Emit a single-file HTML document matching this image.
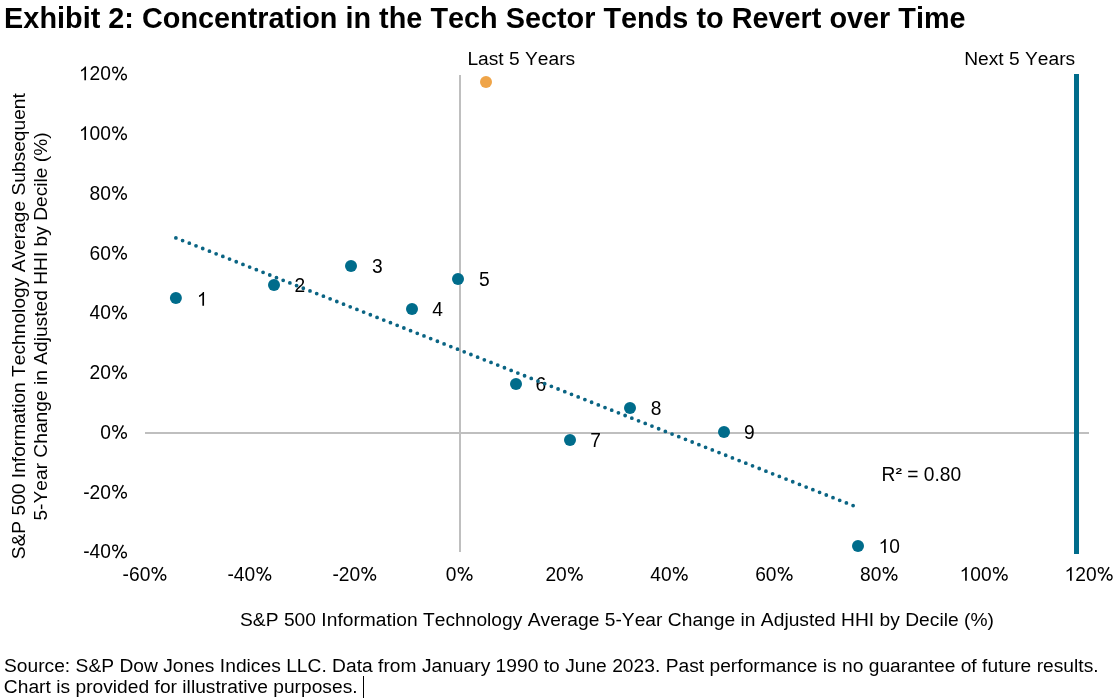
<!DOCTYPE html><html><head><meta charset="utf-8"><style>html,body{margin:0;padding:0;background:#fff;}svg{display:block;will-change:transform;}text{font-family:"Liberation Sans",sans-serif;fill:#000;font-kerning:none;}</style></head><body>
<svg width="1117" height="700" viewBox="0 0 1117 700">
<rect width="1117" height="700" fill="#fff"/>
<text x="4.12" y="28" font-size="28.8" font-weight="bold" textLength="961.5" lengthAdjust="spacing">Exhibit 2: Concentration in the Tech Sector Tends to Revert over Time</text>
<rect x="145" y="432" width="944" height="2" fill="#BFBFBF"/>
<rect x="459" y="75" width="2" height="477" fill="#BFBFBF"/>
<rect x="1074" y="74" width="5" height="480" fill="#006C8B"/>
<path d="M763 0L583 0L583 1147Q518 1085 412 1023Q306 961 222 930L222 1104Q373 1175 486 1276Q599 1377 646 1472L763 1472Z" fill="#000" transform="translate(78.88 80.30) scale(0.009375 -0.009375)"/>
<text x="89.56" y="80.30" font-size="19.2" transform="translate(0 80.30) scale(1 1.07) translate(0 -80.30)">20</text>
<g transform="translate(110.91 80.30)" fill="none" stroke="#000"><ellipse cx="4.2" cy="-10.3" rx="2.45" ry="2.8" stroke-width="1.3"/><ellipse cx="13.05" cy="-3.35" rx="2.42" ry="2.8" stroke-width="1.3"/><line x1="12.45" y1="-13.5" x2="4.8" y2="-0.1" stroke-width="1.45"/></g>
<path d="M763 0L583 0L583 1147Q518 1085 412 1023Q306 961 222 930L222 1104Q373 1175 486 1276Q599 1377 646 1472L763 1472Z" fill="#000" transform="translate(78.88 140.05) scale(0.009375 -0.009375)"/>
<text x="89.56" y="140.05" font-size="19.2" transform="translate(0 140.05) scale(1 1.07) translate(0 -140.05)">00</text>
<g transform="translate(110.91 140.05)" fill="none" stroke="#000"><ellipse cx="4.2" cy="-10.3" rx="2.45" ry="2.8" stroke-width="1.3"/><ellipse cx="13.05" cy="-3.35" rx="2.42" ry="2.8" stroke-width="1.3"/><line x1="12.45" y1="-13.5" x2="4.8" y2="-0.1" stroke-width="1.45"/></g>
<text x="89.56" y="199.80" font-size="19.2" transform="translate(0 199.80) scale(1 1.07) translate(0 -199.80)">80</text>
<g transform="translate(110.91 199.80)" fill="none" stroke="#000"><ellipse cx="4.2" cy="-10.3" rx="2.45" ry="2.8" stroke-width="1.3"/><ellipse cx="13.05" cy="-3.35" rx="2.42" ry="2.8" stroke-width="1.3"/><line x1="12.45" y1="-13.5" x2="4.8" y2="-0.1" stroke-width="1.45"/></g>
<text x="89.56" y="259.55" font-size="19.2" transform="translate(0 259.55) scale(1 1.07) translate(0 -259.55)">60</text>
<g transform="translate(110.91 259.55)" fill="none" stroke="#000"><ellipse cx="4.2" cy="-10.3" rx="2.45" ry="2.8" stroke-width="1.3"/><ellipse cx="13.05" cy="-3.35" rx="2.42" ry="2.8" stroke-width="1.3"/><line x1="12.45" y1="-13.5" x2="4.8" y2="-0.1" stroke-width="1.45"/></g>
<text x="89.56" y="319.30" font-size="19.2" transform="translate(0 319.30) scale(1 1.07) translate(0 -319.30)">40</text>
<g transform="translate(110.91 319.30)" fill="none" stroke="#000"><ellipse cx="4.2" cy="-10.3" rx="2.45" ry="2.8" stroke-width="1.3"/><ellipse cx="13.05" cy="-3.35" rx="2.42" ry="2.8" stroke-width="1.3"/><line x1="12.45" y1="-13.5" x2="4.8" y2="-0.1" stroke-width="1.45"/></g>
<text x="89.56" y="379.05" font-size="19.2" transform="translate(0 379.05) scale(1 1.07) translate(0 -379.05)">20</text>
<g transform="translate(110.91 379.05)" fill="none" stroke="#000"><ellipse cx="4.2" cy="-10.3" rx="2.45" ry="2.8" stroke-width="1.3"/><ellipse cx="13.05" cy="-3.35" rx="2.42" ry="2.8" stroke-width="1.3"/><line x1="12.45" y1="-13.5" x2="4.8" y2="-0.1" stroke-width="1.45"/></g>
<text x="100.23" y="438.80" font-size="19.2" transform="translate(0 438.80) scale(1 1.07) translate(0 -438.80)">0</text>
<g transform="translate(110.91 438.80)" fill="none" stroke="#000"><ellipse cx="4.2" cy="-10.3" rx="2.45" ry="2.8" stroke-width="1.3"/><ellipse cx="13.05" cy="-3.35" rx="2.42" ry="2.8" stroke-width="1.3"/><line x1="12.45" y1="-13.5" x2="4.8" y2="-0.1" stroke-width="1.45"/></g>
<text x="83.16" y="498.55" font-size="19.2" transform="translate(0 498.55) scale(1 1.07) translate(0 -498.55)">-20</text>
<g transform="translate(110.91 498.55)" fill="none" stroke="#000"><ellipse cx="4.2" cy="-10.3" rx="2.45" ry="2.8" stroke-width="1.3"/><ellipse cx="13.05" cy="-3.35" rx="2.42" ry="2.8" stroke-width="1.3"/><line x1="12.45" y1="-13.5" x2="4.8" y2="-0.1" stroke-width="1.45"/></g>
<text x="83.16" y="558.30" font-size="19.2" transform="translate(0 558.30) scale(1 1.07) translate(0 -558.30)">-40</text>
<g transform="translate(110.91 558.30)" fill="none" stroke="#000"><ellipse cx="4.2" cy="-10.3" rx="2.45" ry="2.8" stroke-width="1.3"/><ellipse cx="13.05" cy="-3.35" rx="2.42" ry="2.8" stroke-width="1.3"/><line x1="12.45" y1="-13.5" x2="4.8" y2="-0.1" stroke-width="1.45"/></g>
<text x="122.59" y="580.70" font-size="19.2" transform="translate(0 580.70) scale(1 1.07) translate(0 -580.70)">-60</text>
<g transform="translate(150.34 580.70)" fill="none" stroke="#000"><ellipse cx="4.2" cy="-10.3" rx="2.45" ry="2.8" stroke-width="1.3"/><ellipse cx="13.05" cy="-3.35" rx="2.42" ry="2.8" stroke-width="1.3"/><line x1="12.45" y1="-13.5" x2="4.8" y2="-0.1" stroke-width="1.45"/></g>
<text x="227.49" y="580.70" font-size="19.2" transform="translate(0 580.70) scale(1 1.07) translate(0 -580.70)">-40</text>
<g transform="translate(255.24 580.70)" fill="none" stroke="#000"><ellipse cx="4.2" cy="-10.3" rx="2.45" ry="2.8" stroke-width="1.3"/><ellipse cx="13.05" cy="-3.35" rx="2.42" ry="2.8" stroke-width="1.3"/><line x1="12.45" y1="-13.5" x2="4.8" y2="-0.1" stroke-width="1.45"/></g>
<text x="332.39" y="580.70" font-size="19.2" transform="translate(0 580.70) scale(1 1.07) translate(0 -580.70)">-20</text>
<g transform="translate(360.14 580.70)" fill="none" stroke="#000"><ellipse cx="4.2" cy="-10.3" rx="2.45" ry="2.8" stroke-width="1.3"/><ellipse cx="13.05" cy="-3.35" rx="2.42" ry="2.8" stroke-width="1.3"/><line x1="12.45" y1="-13.5" x2="4.8" y2="-0.1" stroke-width="1.45"/></g>
<text x="445.83" y="580.70" font-size="19.2" transform="translate(0 580.70) scale(1 1.07) translate(0 -580.70)">0</text>
<g transform="translate(456.50 580.70)" fill="none" stroke="#000"><ellipse cx="4.2" cy="-10.3" rx="2.45" ry="2.8" stroke-width="1.3"/><ellipse cx="13.05" cy="-3.35" rx="2.42" ry="2.8" stroke-width="1.3"/><line x1="12.45" y1="-13.5" x2="4.8" y2="-0.1" stroke-width="1.45"/></g>
<text x="545.39" y="580.70" font-size="19.2" transform="translate(0 580.70) scale(1 1.07) translate(0 -580.70)">20</text>
<g transform="translate(566.74 580.70)" fill="none" stroke="#000"><ellipse cx="4.2" cy="-10.3" rx="2.45" ry="2.8" stroke-width="1.3"/><ellipse cx="13.05" cy="-3.35" rx="2.42" ry="2.8" stroke-width="1.3"/><line x1="12.45" y1="-13.5" x2="4.8" y2="-0.1" stroke-width="1.45"/></g>
<text x="650.29" y="580.70" font-size="19.2" transform="translate(0 580.70) scale(1 1.07) translate(0 -580.70)">40</text>
<g transform="translate(671.64 580.70)" fill="none" stroke="#000"><ellipse cx="4.2" cy="-10.3" rx="2.45" ry="2.8" stroke-width="1.3"/><ellipse cx="13.05" cy="-3.35" rx="2.42" ry="2.8" stroke-width="1.3"/><line x1="12.45" y1="-13.5" x2="4.8" y2="-0.1" stroke-width="1.45"/></g>
<text x="755.19" y="580.70" font-size="19.2" transform="translate(0 580.70) scale(1 1.07) translate(0 -580.70)">60</text>
<g transform="translate(776.54 580.70)" fill="none" stroke="#000"><ellipse cx="4.2" cy="-10.3" rx="2.45" ry="2.8" stroke-width="1.3"/><ellipse cx="13.05" cy="-3.35" rx="2.42" ry="2.8" stroke-width="1.3"/><line x1="12.45" y1="-13.5" x2="4.8" y2="-0.1" stroke-width="1.45"/></g>
<text x="860.09" y="580.70" font-size="19.2" transform="translate(0 580.70) scale(1 1.07) translate(0 -580.70)">80</text>
<g transform="translate(881.44 580.70)" fill="none" stroke="#000"><ellipse cx="4.2" cy="-10.3" rx="2.45" ry="2.8" stroke-width="1.3"/><ellipse cx="13.05" cy="-3.35" rx="2.42" ry="2.8" stroke-width="1.3"/><line x1="12.45" y1="-13.5" x2="4.8" y2="-0.1" stroke-width="1.45"/></g>
<path d="M763 0L583 0L583 1147Q518 1085 412 1023Q306 961 222 930L222 1104Q373 1175 486 1276Q599 1377 646 1472L763 1472Z" fill="#000" transform="translate(959.65 580.70) scale(0.009375 -0.009375)"/>
<text x="970.33" y="580.70" font-size="19.2" transform="translate(0 580.70) scale(1 1.07) translate(0 -580.70)">00</text>
<g transform="translate(991.68 580.70)" fill="none" stroke="#000"><ellipse cx="4.2" cy="-10.3" rx="2.45" ry="2.8" stroke-width="1.3"/><ellipse cx="13.05" cy="-3.35" rx="2.42" ry="2.8" stroke-width="1.3"/><line x1="12.45" y1="-13.5" x2="4.8" y2="-0.1" stroke-width="1.45"/></g>
<path d="M763 0L583 0L583 1147Q518 1085 412 1023Q306 961 222 930L222 1104Q373 1175 486 1276Q599 1377 646 1472L763 1472Z" fill="#000" transform="translate(1064.55 580.70) scale(0.009375 -0.009375)"/>
<text x="1075.23" y="580.70" font-size="19.2" transform="translate(0 580.70) scale(1 1.07) translate(0 -580.70)">20</text>
<g transform="translate(1096.58 580.70)" fill="none" stroke="#000"><ellipse cx="4.2" cy="-10.3" rx="2.45" ry="2.8" stroke-width="1.3"/><ellipse cx="13.05" cy="-3.35" rx="2.42" ry="2.8" stroke-width="1.3"/><line x1="12.45" y1="-13.5" x2="4.8" y2="-0.1" stroke-width="1.45"/></g>
<text x="467.43" y="65" font-size="19.2">Last 5 Years</text>
<text x="964.23" y="64.7" font-size="19.2">Next 5 Years</text>
<circle cx="175.9" cy="297.9" r="6" fill="#006C8B"/>
<circle cx="274" cy="284.9" r="6" fill="#006C8B"/>
<circle cx="351" cy="266" r="6" fill="#006C8B"/>
<circle cx="412" cy="308.9" r="6" fill="#006C8B"/>
<circle cx="458" cy="279" r="6" fill="#006C8B"/>
<circle cx="516" cy="384" r="6" fill="#006C8B"/>
<circle cx="570" cy="440" r="6" fill="#006C8B"/>
<circle cx="630" cy="408" r="6" fill="#006C8B"/>
<circle cx="724" cy="432" r="6" fill="#006C8B"/>
<circle cx="858" cy="546" r="6" fill="#006C8B"/>
<path d="M763 0L583 0L583 1147Q518 1085 412 1023Q306 961 222 930L222 1104Q373 1175 486 1276Q599 1377 646 1472L763 1472Z" fill="#000" transform="translate(196.90 305.80) scale(0.009375 -0.009375)"/>
<text x="294.50" y="291.80" font-size="19.2" transform="translate(0 291.80) scale(1 1.07) translate(0 -291.80)">2</text>
<text x="372.00" y="272.90" font-size="19.2" transform="translate(0 272.90) scale(1 1.07) translate(0 -272.90)">3</text>
<text x="432.30" y="315.80" font-size="19.2" transform="translate(0 315.80) scale(1 1.07) translate(0 -315.80)">4</text>
<text x="478.90" y="285.90" font-size="19.2" transform="translate(0 285.90) scale(1 1.07) translate(0 -285.90)">5</text>
<text x="535.60" y="390.90" font-size="19.2" transform="translate(0 390.90) scale(1 1.07) translate(0 -390.90)">6</text>
<text x="590.30" y="446.90" font-size="19.2" transform="translate(0 446.90) scale(1 1.07) translate(0 -446.90)">7</text>
<text x="650.80" y="414.90" font-size="19.2" transform="translate(0 414.90) scale(1 1.07) translate(0 -414.90)">8</text>
<text x="744.10" y="438.90" font-size="19.2" transform="translate(0 438.90) scale(1 1.07) translate(0 -438.90)">9</text>
<path d="M763 0L583 0L583 1147Q518 1085 412 1023Q306 961 222 930L222 1104Q373 1175 486 1276Q599 1377 646 1472L763 1472Z" fill="#000" transform="translate(878.60 552.90) scale(0.009375 -0.009375)"/>
<text x="889.28" y="552.90" font-size="19.2" transform="translate(0 552.90) scale(1 1.07) translate(0 -552.90)">0</text>
<line x1="175.9" y1="237.9" x2="853.1" y2="505.6" stroke="#0A6483" stroke-width="3.8" stroke-linecap="round" stroke-dasharray="0 7.2098"/>
<circle cx="486" cy="81.9" r="6" fill="#EFA448"/>
<text x="881.63" y="481" font-size="19.2" transform="translate(0 481.00) scale(1 1.07) translate(0 -481.00)">R</text>
<text x="907.22" y="481" font-size="19.2" transform="translate(0 481.00) scale(1 1.07) translate(0 -481.00)">= 0.80</text>
<text x="0" y="0" font-size="10" font-weight="bold" transform="translate(895.6 474.2) scale(1.2 0.95)">2</text>
<text x="240.03" y="626" font-size="19.2" textLength="753.9" lengthAdjust="spacing">S&amp;P 500 Information Technology Average 5-Year Change in Adjusted HHI by Decile (%)</text>
<text transform="rotate(-90)" x="-559.27" y="25.2" font-size="19.2">S&amp;P 500 Information Technology Average Subsequent</text>
<text transform="rotate(-90)" x="-520.57" y="47.1" font-size="19.2">5-Year Change in Adjusted HHI by Decile (%)</text>
<text x="3.93" y="671.5" font-size="19.2" textLength="1094.7" lengthAdjust="spacing">Source: S&amp;P Dow Jones Indices LLC. Data from January 1990 to June 2023. Past performance is no guarantee of future results.</text>
<text x="3.82" y="693.3" font-size="19.2" textLength="353.8" lengthAdjust="spacing">Chart is provided for illustrative purposes.</text>
<rect x="363" y="676" width="1" height="22" fill="#000"/>
</svg></body></html>
